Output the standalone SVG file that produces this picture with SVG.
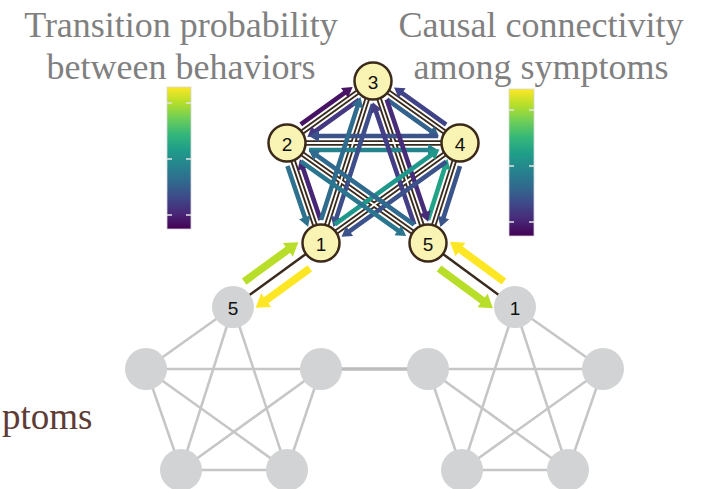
<svg xmlns="http://www.w3.org/2000/svg" xmlns:xlink="http://www.w3.org/1999/xlink" width="702" height="489" viewBox="0 0 702 489">
<style>
.title{font-family:"Liberation Serif","Times New Roman",serif;font-size:36px;fill:#808080;text-anchor:middle}
.side{font-family:"Liberation Serif","Times New Roman",serif;font-size:37px;fill:#5e3b34}
.num{font-family:"Liberation Sans",Arial,sans-serif;font-size:19px;fill:#111;text-anchor:middle;dominant-baseline:central}
.ynode{fill:#faf4b4;stroke:#3b2a1a;stroke-width:2.5}
.gnode{fill:#d1d3d4}
.gl{stroke:#c6c6c6;stroke-width:2.5;fill:none}
.bridge{stroke:#bdbdbd;stroke-width:3.5}
.rail{stroke:#3a2a1c;stroke-width:5.5}
.railw{stroke:#ffffff;stroke-width:1.8}
.link{stroke:#3a2a1c;stroke-width:2.5}
.tick{stroke:#e6e6e6;stroke-width:1.5}
.bar{stroke:#d8d8d8;stroke-width:0.8}
</style>
<defs>
<linearGradient id="vir" x1="0" y1="0" x2="0" y2="1">
<stop offset="0" stop-color="#fde725"/>
<stop offset="0.11" stop-color="#b5de2b"/>
<stop offset="0.22" stop-color="#6ece58"/>
<stop offset="0.33" stop-color="#35b779"/>
<stop offset="0.44" stop-color="#1f9e89"/>
<stop offset="0.56" stop-color="#26828e"/>
<stop offset="0.67" stop-color="#31688e"/>
<stop offset="0.78" stop-color="#3e4989"/>
<stop offset="0.89" stop-color="#482878"/>
<stop offset="1" stop-color="#440154"/>
</linearGradient>
<path id="aS" d="M22,-2.3 H76 V-6 L86,0 L76,6 V2.3 H22 Z"/>
<path id="aL" d="M22,-2.3 H141 V-6 L151,0 L141,6 V2.3 H22 Z"/>
<path id="aB" d="M24,-3.8 H78 V-8.5 L91,0 L78,8.5 V3.8 H24 Z"/>
</defs>

<g id="titles">
<text class="title" x="181" y="37">Transition probability</text>
<text class="title" x="181" y="79">between behaviors</text>
<text class="title" x="541" y="37">Causal connectivity</text>
<text class="title" x="541" y="79">among symptoms</text>
<text class="side" x="2" y="429">ptoms</text>
</g>

<g id="colorbar-left">
<rect class="bar" x="167" y="87" width="24" height="142" fill="url(#vir)"/>
<line class="tick" x1="167" y1="103" x2="172" y2="103"/><line class="tick" x1="186" y1="103" x2="191" y2="103"/>
<line class="tick" x1="167" y1="159" x2="172" y2="159"/><line class="tick" x1="186" y1="159" x2="191" y2="159"/>
<line class="tick" x1="167" y1="215" x2="172" y2="215"/><line class="tick" x1="186" y1="215" x2="191" y2="215"/>
</g>
<g id="colorbar-right">
<rect class="bar" x="509" y="89" width="25" height="147" fill="url(#vir)"/>
<line class="tick" x1="509" y1="110" x2="514" y2="110"/><line class="tick" x1="529" y1="110" x2="534" y2="110"/>
<line class="tick" x1="509" y1="166" x2="514" y2="166"/><line class="tick" x1="529" y1="166" x2="534" y2="166"/>
<line class="tick" x1="509" y1="222" x2="514" y2="222"/><line class="tick" x1="529" y1="222" x2="534" y2="222"/>
</g>

<g id="connectors">
<g id="gray-edges">
<line class="gl" x1="233" y1="307" x2="146" y2="369"/>
<line class="gl" x1="233" y1="307" x2="181" y2="470"/>
<line class="gl" x1="233" y1="307" x2="287" y2="470"/>
<line class="gl" x1="146" y1="369" x2="321" y2="369"/>
<line class="gl" x1="146" y1="369" x2="181" y2="470"/>
<line class="gl" x1="146" y1="369" x2="287" y2="470"/>
<line class="gl" x1="321" y1="369" x2="181" y2="470"/>
<line class="gl" x1="321" y1="369" x2="287" y2="470"/>
<line class="gl" x1="181" y1="470" x2="287" y2="470"/>
<line class="gl" x1="515" y1="307" x2="603" y2="369"/>
<line class="gl" x1="515" y1="307" x2="462" y2="470"/>
<line class="gl" x1="515" y1="307" x2="568" y2="470"/>
<line class="gl" x1="428" y1="369" x2="603" y2="369"/>
<line class="gl" x1="428" y1="369" x2="462" y2="470"/>
<line class="gl" x1="428" y1="369" x2="568" y2="470"/>
<line class="gl" x1="603" y1="369" x2="462" y2="470"/>
<line class="gl" x1="603" y1="369" x2="568" y2="470"/>
<line class="gl" x1="462" y1="470" x2="568" y2="470"/>
<line class="bridge" x1="321" y1="369" x2="428" y2="369"/>
</g>
<g id="rails">
<line class="rail" x1="321" y1="243" x2="287" y2="143"/>
<line class="rail" x1="287" y1="143" x2="373" y2="81"/>
<line class="rail" x1="373" y1="81" x2="460" y2="143"/>
<line class="rail" x1="460" y1="143" x2="428" y2="243"/>
<line class="rail" x1="287" y1="143" x2="460" y2="143"/>
<line class="rail" x1="321" y1="243" x2="373" y2="81"/>
<line class="rail" x1="373" y1="81" x2="428" y2="243"/>
<line class="rail" x1="321" y1="243" x2="460" y2="143"/>
<line class="rail" x1="287" y1="143" x2="428" y2="243"/>
<line class="railw" x1="321" y1="243" x2="287" y2="143"/>
<line class="railw" x1="287" y1="143" x2="373" y2="81"/>
<line class="railw" x1="373" y1="81" x2="460" y2="143"/>
<line class="railw" x1="460" y1="143" x2="428" y2="243"/>
<line class="railw" x1="287" y1="143" x2="460" y2="143"/>
<line class="railw" x1="321" y1="243" x2="373" y2="81"/>
<line class="railw" x1="373" y1="81" x2="428" y2="243"/>
<line class="railw" x1="321" y1="243" x2="460" y2="143"/>
<line class="railw" x1="287" y1="143" x2="428" y2="243"/>
<line class="link" x1="321" y1="243" x2="233" y2="307"/>
<line class="link" x1="428" y1="243" x2="515" y2="307"/>
</g>
<g id="arrows">
<use href="#aS" transform="translate(287,143) rotate(71.22) translate(0,7)" fill="#2d718e"/>
<use href="#aS" transform="translate(321,243) rotate(-108.78) translate(0,7)" fill="#482677"/>
<use href="#aS" transform="translate(287,143) rotate(-35.80) translate(0,-7)" fill="#471365"/>
<use href="#aS" transform="translate(373,81) rotate(144.20) translate(0,-7)" fill="#453781"/>
<use href="#aS" transform="translate(460,143) rotate(-144.52) translate(0,7)" fill="#404387"/>
<use href="#aS" transform="translate(373,81) rotate(35.48) translate(0,7)" fill="#33638d"/>
<use href="#aS" transform="translate(460,143) rotate(107.74) translate(0,-7)" fill="#3a548c"/>
<use href="#aS" transform="translate(428,243) rotate(-72.26) translate(0,-7)" fill="#20a386"/>
<use href="#aL" transform="translate(460,143) rotate(180) translate(0,7)" fill="#3b528b"/>
<use href="#aL" transform="translate(287,143) rotate(0) translate(0,7)" fill="#25838e"/>
<use href="#aL" transform="translate(321,243) rotate(-72.20) translate(0,-7)" fill="#2f6c8e"/>
<use href="#aL" transform="translate(373,81) rotate(107.80) translate(0,-7)" fill="#3d4e8a"/>
<use href="#aL" transform="translate(428,243) rotate(-108.75) translate(0,-7)" fill="#433e85"/>
<use href="#aL" transform="translate(373,81) rotate(71.25) translate(0,-7)" fill="#472c7a"/>
<use href="#aL" transform="translate(321,243) rotate(-35.73) translate(0,-7)" fill="#1f988b"/>
<use href="#aL" transform="translate(460,143) rotate(144.27) translate(0,-7)" fill="#3b528b"/>
<use href="#aL" transform="translate(287,143) rotate(35.35) translate(0,7)" fill="#2a768e"/>
<use href="#aL" transform="translate(428,243) rotate(-144.65) translate(0,7)" fill="#306a8e"/>
<use href="#aB" transform="translate(233,307) rotate(-36.03) translate(0,-14)" fill="#b8de29"/>
<use href="#aB" transform="translate(321,243) rotate(143.97) translate(0,-14)" fill="#fde725"/>
<use href="#aB" transform="translate(515,307) rotate(-143.66) translate(0,14)" fill="#fde725"/>
<use href="#aB" transform="translate(428,243) rotate(36.34) translate(0,14)" fill="#b8de29"/>
</g>
</g>

<g id="gray-nodes">
<g id="g-left-top"><circle class="gnode" cx="233" cy="307" r="21"/><text class="num" x="233" y="308">5</text></g>
<g id="g-left-l"><circle class="gnode" cx="146" cy="369" r="21"/></g>
<g id="g-left-r"><circle class="gnode" cx="321" cy="369" r="21"/></g>
<g id="g-left-bl"><circle class="gnode" cx="181" cy="470" r="21"/></g>
<g id="g-left-br"><circle class="gnode" cx="287" cy="470" r="21"/></g>
<g id="g-right-top"><circle class="gnode" cx="515" cy="307" r="21"/><text class="num" x="515" y="308">1</text></g>
<g id="g-right-l"><circle class="gnode" cx="428" cy="369" r="21"/></g>
<g id="g-right-r"><circle class="gnode" cx="603" cy="369" r="21"/></g>
<g id="g-right-bl"><circle class="gnode" cx="462" cy="470" r="21"/></g>
<g id="g-right-br"><circle class="gnode" cx="568" cy="470" r="21"/></g>
</g>

<g id="yellow-nodes">
<g id="n1"><circle class="ynode" cx="321" cy="243" r="18.5"/><text class="num" x="321" y="244">1</text></g>
<g id="n2"><circle class="ynode" cx="287" cy="143" r="18.5"/><text class="num" x="287" y="144">2</text></g>
<g id="n3"><circle class="ynode" cx="373" cy="81" r="18.5"/><text class="num" x="373" y="82">3</text></g>
<g id="n4"><circle class="ynode" cx="460" cy="143" r="18.5"/><text class="num" x="460" y="144">4</text></g>
<g id="n5"><circle class="ynode" cx="428" cy="243" r="18.5"/><text class="num" x="428" y="244">5</text></g>
</g>
</svg>
